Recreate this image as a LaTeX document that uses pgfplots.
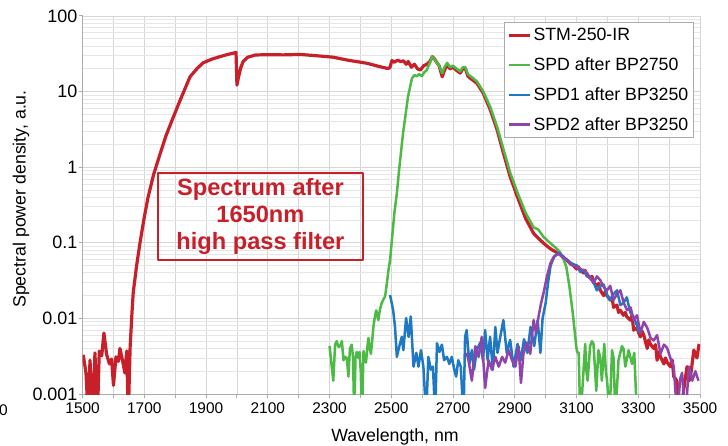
\documentclass[border=0pt]{standalone}
\usepackage{pgfplots}
\pgfplotsset{compat=1.18}
\usepackage{fontspec}
\setmainfont{Liberation Sans}

\definecolor{cred}{HTML}{C8202A}
\definecolor{cgreen}{HTML}{4DBA45}
\definecolor{cblue}{HTML}{1E78C2}
\definecolor{cpurple}{HTML}{8E44AA}
\definecolor{gridc}{HTML}{D6D6D6}
\definecolor{gridm}{HTML}{E6E6E6}
\definecolor{axc}{HTML}{ABABAB}

\begin{document}
\begin{tikzpicture}
\useasboundingbox (-82.6bp,-52bp) rectangle (645.4bp,394bp);
\begin{axis}[
    scale only axis,
    width=617.4bp, height=378bp,
    ymode=log,
    xmin=1500, xmax=3500, ymin=0.001, ymax=100,
    xtick={1500,1600,...,3500},
    xticklabels={1500,,1700,,1900,,2100,,2300,,2500,,2700,,2900,,3100,,3300,,3500},
    ytick={0.001,0.01,0.1,1,10,100},
    yticklabels={0.001,0.01,0.1,1,10,100},
    minor ytick={0.002,0.003,0.004,0.005,0.006,0.007,0.008,0.009,
                 0.02,0.03,0.04,0.05,0.06,0.07,0.08,0.09,
                 0.2,0.3,0.4,0.5,0.6,0.7,0.8,0.9,
                 2,3,4,5,6,7,8,9,20,30,40,50,60,70,80,90},
    xmajorgrids, ymajorgrids, yminorgrids,
    major grid style={color=gridc, line width=0.9bp},
    minor grid style={color=gridm, line width=0.8bp},
    axis x line*=bottom, axis y line*=left,
    axis line style={color=axc, line width=1bp, -},
    tick align=outside,
    major tick length=4bp, minor tick length=0bp,
    tick style={color=axc, line width=1bp},
    /pgf/number format/assume math mode=true,
    xticklabel style={font=\fontsize{15.5}{17}\selectfont, inner sep=0pt, yshift=-5bp},
    yticklabel style={font=\fontsize{18}{20}\selectfont, inner sep=0pt, xshift=-1bp},
    xlabel={Wavelength, nm},
    ylabel={Spectral power density, a.u.},
    label style={font=\fontsize{17.8}{20}\selectfont},
    xlabel style={at={(axis description cs:0.506,0)}, anchor=center, yshift=-43bp},
    ylabel style={at={(axis description cs:-0.0998,0.516)}, anchor=center},
    legend style={at={(0.990,0.984)}, anchor=north east, draw=axc, line width=1bp,
                  font=\fontsize{17.8}{20}\selectfont, row sep=11.5bp,
                  inner xsep=3bp, inner ysep=4bp, fill=white},
    legend cell align=left,
    legend image code/.code={\draw[#1] (0bp,0bp) -- (21bp,0bp);},
    line join=round,
]
% STM-250-IR
\addplot[color=cred, line width=3.2bp] coordinates {
(1502,0.0033)(1511,0.0019)(1518,0.0005)(1524,0.0028)(1533,0.0005)(1540,0.0035)
(1548,0.0005)(1554,0.0037)(1562,0.0032)(1569,0.0064)(1578,0.0033)(1587,0.0025)
(1594,0.0029)(1600,0.0013)(1608,0.0031)(1616,0.0027)(1621,0.004)(1630,0.0027)
(1637,0.0019)(1643,0.0037)(1648,0.0005)(1654,0.0042)(1660,0.012)(1664,0.022)
(1675,0.05)(1686,0.1)(1700,0.22)(1712,0.4)(1730,0.8)(1751,1.5)(1770,2.6)
(1790,4.2)(1816,7.7)(1848,15.7)(1870,20)(1890,24)(1920,27)(1945,29)(1970,31)
(1994,32.7)(1997,33)(2000,12.2)(2005,15.5)(2012,20.5)(2020,25)(2035,28.5)
(2060,30.5)(2100,30.8)(2150,30.6)(2205,31)(2250,30)(2312,28.5)(2360,26)
(2421,23.7)(2460,21.5)(2486,20.3)(2495,20.5)(2502,25.7)(2510,24.5)(2520,26)
(2530,25)(2540,25.5)(2548,23)(2555,25)(2565,21)(2575,23)(2585,20)(2594,19.3)
(2605,22)(2615,23)(2625,25)(2633,29)(2640,27)(2648,24)(2655,22)(2665,15.7)
(2672,19)(2681,23)(2690,20)(2700,21)(2712,19)(2723,17.6)(2732,20)(2740,20)
(2748,16)(2756,15)(2766,14)(2778,12.8)(2798,9.5)(2821,5.7)(2843,3.1)(2863,1.55)
(2885,0.75)(2908,0.41)(2935,0.21)(2961,0.133)(2976,0.115)(2993,0.099)(3008,0.088)
(3020,0.081)(3035,0.075)(3047,0.07)(3060,0.062)(3070,0.058)(3080,0.053)(3090,0.05)
(3100,0.045)(3106,0.048)(3112,0.044)(3122,0.04)(3128,0.043)(3133,0.037)(3144,0.0345)
(3150,0.036)(3155,0.03)(3166,0.027)(3172,0.029)(3177,0.0235)(3188,0.02)(3194,0.023)
(3199,0.02)(3209,0.0175)(3215,0.019)(3220,0.014)(3231,0.015)(3236,0.012)(3242,0.0128)
(3252,0.011)(3258,0.012)(3263,0.0105)(3274,0.0095)(3280,0.011)(3285,0.007)(3296,0.0075)
(3301,0.0065)(3307,0.0057)(3312,0.0068)(3318,0.006)(3329,0.004)(3334,0.0052)(3339,0.0046)
(3350,0.004)(3356,0.0045)(3361,0.0028)(3366,0.0036)(3372,0.0031)(3383,0.0025)(3388,0.003)
(3394,0.0026)(3404,0.0023)(3410,0.0028)(3415,0.0017)(3425,0.0015)(3437,0.0005)(3448,0.0012)
(3458,0.0023)(3465,0.0015)(3470,0.0018)(3480,0.0038)(3490,0.003)(3497,0.0046)
};
% SPD after BP2750
\addplot[color=cgreen, line width=2.5bp] coordinates {
(2300,0.0043)(2312,0.0015)(2318,0.0045)(2323,0.005)(2329,0.0042)(2334,0.0043)
(2340,0.005)(2345,0.0028)(2350,0.0031)(2356,0.003)(2361,0.0017)(2366,0.004)
(2372,0.0045)(2376,0.003)(2380,0.0005)(2384,0.003)(2388,0.0036)(2393,0.003)
(2397,0.0036)(2401,0.002)(2405,0.0005)(2410,0.0037)(2414,0.003)(2418,0.0026)
(2422,0.004)(2426,0.0055)(2430,0.004)(2434,0.0034)(2438,0.005)(2442,0.0077)
(2446,0.01)(2451,0.0128)(2455,0.011)(2458,0.0095)(2463,0.013)(2469,0.016)
(2475,0.018)(2480,0.0195)(2486,0.03)(2491,0.044)(2496,0.059)(2502,0.11)
(2510,0.25)(2518,0.45)(2525,0.9)(2538,2.8)(2554,8.5)(2567,15)(2575,16.5)
(2583,16)(2590,17)(2599,16)(2607,18)(2615,19.3)(2625,24)(2632,29)(2640,27)
(2648,24)(2655,22)(2665,17.5)(2672,21)(2681,24)(2690,21)(2700,22)(2712,20)
(2723,18.5)(2732,21)(2740,21)(2748,17)(2756,16)(2766,15)(2778,13.5)(2798,10)
(2821,6.2)(2843,3.4)(2863,1.75)(2885,0.85)(2908,0.47)(2935,0.25)(2961,0.16)
(2976,0.15)(2993,0.12)(3008,0.105)(3034,0.085)(3047,0.075)(3057,0.062)
(3067,0.048)(3077,0.0264)(3088,0.0116)(3099,0.0043)(3102,0.0036)(3107,0.0035)
(3112,0.0005)(3118,0.001)(3128,0.0046)(3132,0.002)(3136,0.0015)(3144,0.0043)
(3150,0.005)(3155,0.0046)(3164,0.0011)(3171,0.0038)(3177,0.003)(3182,0.0015)
(3190,0.0046)(3195,0.002)(3199,0.0015)(3207,0.0005)(3215,0.0038)(3220,0.003)
(3226,0.0005)(3236,0.0028)(3247,0.0043)(3252,0.004)(3258,0.0023)(3269,0.0038)
(3275,0.003)(3280,0.0025)(3287,0.0035)(3296,0.0005)
};
% SPD1 after BP3250
\addplot[color=cblue, line width=2.5bp] coordinates {
(2496,0.0204)(2506,0.0128)(2512,0.0077)(2518,0.0031)(2526,0.0043)(2534,0.0057)
(2539,0.0038)(2548,0.0101)(2556,0.0057)(2563,0.0106)(2572,0.0023)(2581,0.0035)
(2588,0.0023)(2596,0.0038)(2604,0.0023)(2613,0.0005)(2620,0.0031)(2628,0.0021)
(2635,0.0023)(2642,0.0005)(2648,0.0047)(2656,0.0036)(2664,0.0045)(2671,0.0028)
(2680,0.0031)(2688,0.0025)(2696,0.0031)(2704,0.0021)(2710,0.0017)(2717,0.0028)
(2725,0.0023)(2734,0.0005)(2739,0.0057)(2744,0.007)(2753,0.0025)(2761,0.0038)
(2768,0.0021)(2777,0.0038)(2788,0.0048)(2797,0.0028)(2804,0.007)(2812,0.0028)
(2820,0.0057)(2829,0.0021)(2837,0.0077)(2844,0.0035)(2853,0.0057)(2863,0.0095)
(2874,0.0035)(2885,0.0052)(2896,0.0023)(2909,0.0046)(2919,0.0028)(2930,0.0053)
(2941,0.0035)(2951,0.0077)(2963,0.0043)(2974,0.0095)(2983,0.0035)(2990,0.01)
(3000,0.016)(3008,0.03)(3016,0.05)(3028,0.066)(3042,0.074)(3057,0.066)
(3068,0.06)(3080,0.055)(3090,0.052)(3102,0.05)(3112,0.041)(3123,0.044)
(3134,0.036)(3144,0.0355)(3155,0.03)(3166,0.0235)(3177,0.027)(3188,0.028)
(3199,0.02)(3209,0.0175)(3220,0.021)(3231,0.0235)(3242,0.015)(3252,0.016)
(3263,0.019)(3274,0.012)(3285,0.0105)(3296,0.008)(3302,0.0065)
};
% SPD2 after BP3250
\addplot[color=cpurple, line width=2.5bp] coordinates {
(2744,0.0035)(2750,0.0028)(2761,0.0015)(2772,0.0043)(2783,0.0031)(2793,0.0057)
(2804,0.0012)(2815,0.0028)(2826,0.0021)(2837,0.0031)(2848,0.0023)(2859,0.0031)
(2869,0.0026)(2880,0.0038)(2891,0.0028)(2902,0.0023)(2912,0.0043)(2920,0.0014)
(2928,0.0034)(2939,0.0048)(2950,0.0034)(2961,0.0095)(2969,0.0064)(2977,0.0106)
(2985,0.0158)(2993,0.0215)(3004,0.0355)(3015,0.053)(3026,0.065)(3042,0.072)
(3058,0.063)(3069,0.06)(3080,0.052)(3090,0.05)(3101,0.048)(3112,0.045)
(3123,0.043)(3134,0.04)(3144,0.034)(3155,0.0295)(3166,0.036)(3177,0.032)
(3188,0.026)(3199,0.0235)(3209,0.027)(3220,0.0175)(3231,0.021)(3242,0.0235)
(3253,0.016)(3264,0.0128)(3275,0.014)(3285,0.0095)(3296,0.011)(3307,0.0064)
(3318,0.009)(3329,0.0075)(3340,0.0055)(3350,0.0051)(3361,0.006)(3372,0.0034)
(3383,0.0045)(3393,0.0041)(3404,0.003)(3415,0.0023)(3426,0.0005)(3436,0.0016)
(3442,0.0019)(3453,0.0005)(3464,0.0023)(3475,0.0015)(3485,0.002)(3495,0.0015)
};
\legend{STM-250-IR, SPD after BP2750, SPD1 after BP3250, SPD2 after BP3250}
\node[draw=cred, line width=2bp, text=cred, align=center,
      minimum width=205bp, minimum height=87bp, inner sep=0pt,
      font=\fontsize{23.7}{27}\selectfont\bfseries]
      at (axis cs:2076,0.223) {Spectrum after\\1650nm\\high pass filter};
\end{axis}
\node[anchor=east, inner sep=0pt, font=\fontsize{15.5}{17}\selectfont] at (-74.6bp,-16bp) {0};
\end{tikzpicture}
\end{document}
